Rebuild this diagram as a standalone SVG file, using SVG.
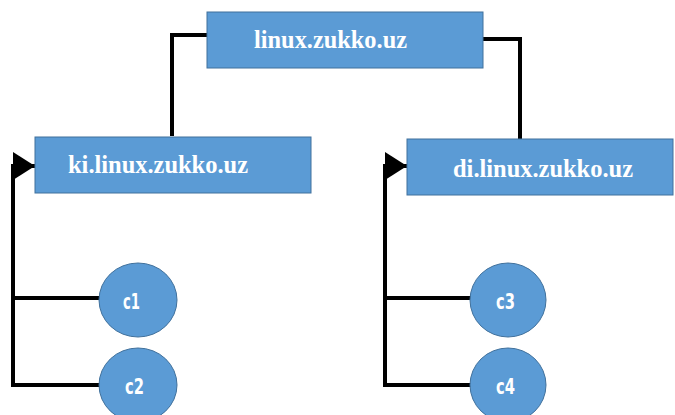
<svg xmlns="http://www.w3.org/2000/svg" width="675" height="415" viewBox="0 0 675 415">
<defs>
<style>
.box{fill:#5b9bd5;stroke:#41719c;stroke-width:1}
.circ{fill:#5b9bd5;stroke:#41719c;stroke-width:1}
.lbl{font-family:"Liberation Serif","Times New Roman",serif;font-weight:bold;font-size:26px;fill:#ffffff}
.clbl{font-family:"DejaVu Sans Condensed","Liberation Sans Narrow","Liberation Sans",sans-serif;font-weight:bold;font-size:21px;fill:#ffffff}
.con{fill:none;stroke:#000000;stroke-width:4}
</style>
<marker id="arr" markerUnits="userSpaceOnUse" markerWidth="24" markerHeight="30" refX="22" refY="14" orient="auto">
<path d="M0,0 L22,14 L0,28 Z" fill="#000000"/>
</marker>
</defs>
<rect width="675" height="415" fill="#ffffff"/>
<g id="connectors">
<path class="con" d="M207,35 H172 V136"/>
<path class="con" d="M483,39 H520 V139"/>
<path class="con" d="M100,298 H13 V385 H100"/>
<path class="con" d="M13,298 V166 H35" marker-end="url(#arr)"/>
<path class="con" d="M471,298 H385 V385 H471"/>
<path class="con" d="M385,298 V166 H407" marker-end="url(#arr)"/>
</g>
<g id="root">
<rect class="box" x="207" y="12" width="276" height="56"/>
<text class="lbl" x="254" y="48" textLength="153" lengthAdjust="spacingAndGlyphs">linux.zukko.uz</text>
</g>
<g id="ki">
<rect class="box" x="35" y="137" width="276" height="56"/>
<text class="lbl" x="68" y="173" textLength="180" lengthAdjust="spacingAndGlyphs">ki.linux.zukko.uz</text>
</g>
<g id="di">
<rect class="box" x="407" y="139" width="266" height="56"/>
<text class="lbl" x="453" y="177" textLength="180" lengthAdjust="spacingAndGlyphs">di.linux.zukko.uz</text>
</g>
<g id="c1">
<ellipse class="circ" cx="138" cy="300" rx="39" ry="37"/>
<text class="clbl" x="123" y="309" textLength="17" lengthAdjust="spacingAndGlyphs">c1</text>
</g>
<g id="c2">
<ellipse class="circ" cx="138" cy="385" rx="39" ry="37"/>
<text class="clbl" x="125" y="394" textLength="19" lengthAdjust="spacingAndGlyphs">c2</text>
</g>
<g id="c3">
<ellipse class="circ" cx="508" cy="300" rx="38" ry="37"/>
<text class="clbl" x="496" y="309" textLength="19" lengthAdjust="spacingAndGlyphs">c3</text>
</g>
<g id="c4">
<ellipse class="circ" cx="508" cy="385" rx="38" ry="37"/>
<text class="clbl" x="496" y="394" textLength="19" lengthAdjust="spacingAndGlyphs">c4</text>
</g>
</svg>
